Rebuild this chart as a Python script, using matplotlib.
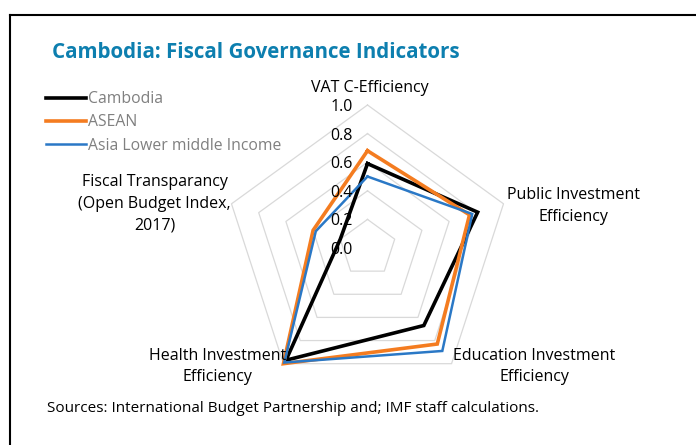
import numpy as np
import matplotlib
matplotlib.use("Agg")
import matplotlib.pyplot as plt
from matplotlib.lines import Line2D

plt.rcParams['font.family'] = ['Open Sans', 'DejaVu Sans']

categories = ["VAT C-Efficiency", "Public Investment\nEfficiency",
              "Education Investment\nEfficiency", "Health Investment\nEfficiency",
              "Fiscal Transparancy\n(Open Budget Index,\n2017)"]
cambodia = [0.59, 0.81, 0.67, 0.97, 0.20]
asean = [0.68, 0.75, 0.83, 1.00, 0.40]
asia_lmi = [0.50, 0.77, 0.89, 0.99, 0.38]
series_names = ["Cambodia", "ASEAN", "Asia Lower middle Income"]
grid_levels = [0.2, 0.4, 0.6, 0.8, 1.0]
tick_levels = [0.0, 0.2, 0.4, 0.6, 0.8, 1.0]

W, H = 696, 445
fig = plt.figure(figsize=(W / 100, H / 100), dpi=100)

cx, cy, R = 367.5, 248, 143
ax = fig.add_axes([(cx - R) / W, (H - cy - R) / H, 2 * R / W, 2 * R / H], projection='polar')
ax.set_theta_offset(np.pi / 2)
ax.set_theta_direction(-1)
ax.set_ylim(0, 1.0)
ax.grid(False)
ax.set_xticks([])
ax.set_yticks([])
ax.spines['polar'].set_visible(False)
ax.patch.set_alpha(0)

n = len(categories)
theta = np.linspace(0, 2 * np.pi, n, endpoint=False)
theta_c = np.append(theta, theta[0])

for lv in grid_levels:
    ax.plot(theta_c, [lv] * (n + 1), color='#D9D9D9', lw=0.9, clip_on=False, zorder=1)

styles = [("#000000", 2.6), ("#F47C20", 2.6), ("#2A78C6", 1.8)]
handles = []
for vals, name, (c, lw) in zip([cambodia, asean, asia_lmi], series_names, styles):
    v = np.append(vals, vals[0])
    ln, = ax.plot(theta_c, v, color=c, lw=lw, clip_on=False, zorder=3,
                  solid_joinstyle='miter', label=name)
    handles.append(ln)

# radial tick labels
for lv in tick_levels:
    ax.annotate(f"{lv:.1f}", xy=(0, lv), xytext=(-15, -2), textcoords='offset pixels',
                ha='right', va='center', fontsize=11.5, color='#000000', zorder=4,
                annotation_clip=False)

# category labels
offsets = [(2, 17), (70, -2), (83, -3), (-66, -3), (-77, 0)]
for t, lab, off in zip(theta, categories, offsets):
    ax.annotate(lab, xy=(t, 1.0), xytext=off, textcoords='offset pixels',
                ha='center', va='center', fontsize=11.5, color='#000000',
                linespacing=1.45, annotation_clip=False)

fig.legend(handles=handles, labels=series_names, loc='upper left',
           bbox_to_anchor=(46 / W, 1 - 91 / H), frameon=False, fontsize=11.3,
           handlelength=2.55, handletextpad=0.15, labelspacing=0.47,
           borderpad=0, borderaxespad=0, labelcolor='#808080')

fig.text(52 / W, 1 - 52 / H, "Cambodia: Fiscal Governance Indicators", fontsize=14.8,
         fontweight='bold', color='#0D7FAF', ha='left', va='center')
fig.text(47 / W, 1 - 408 / H, "Sources: International Budget Partnership and; IMF staff calculations.",
         fontsize=11, color='#000000', ha='left', va='center')

# frame
fig.add_artist(Line2D([9.5 / W, 9.5 / W], [0, 1 - 14.5 / H], transform=fig.transFigure,
                      color='black', lw=1.5))
fig.add_artist(Line2D([9.5 / W, 1], [1 - 14.5 / H, 1 - 14.5 / H], transform=fig.transFigure,
                      color='black', lw=1.5))

fig.savefig("out.png", dpi=100)
